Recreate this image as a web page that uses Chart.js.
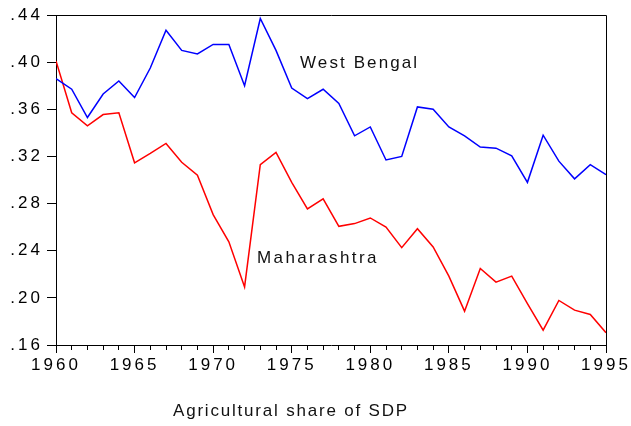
<!DOCTYPE html>
<html>
<head>
<meta charset="utf-8">
<script src="https://cdn.jsdelivr.net/npm/chart.js@4"></script>
<style>
  body { margin: 0; background: #fff; }
  canvas { display: block; }
</style>
</head>
<body>
<canvas id="chart" width="631" height="426"></canvas>
<script>
// agricultural share of state domestic product, 1960-1995
const years = [1960, 1961, 1962, 1963, 1964, 1965, 1966, 1967, 1968, 1969, 1970, 1971,
               1972, 1973, 1974, 1975, 1976, 1977, 1978, 1979, 1980, 1981, 1982, 1983,
               1984, 1985, 1986, 1987, 1988, 1989, 1990, 1991, 1992, 1993, 1994, 1995];

const westBengal = [.386, .377, .353, .373, .384, .370, .395, .427, .410, .407, .415, .415,
                    .380, .437, .410, .378, .369, .377, .365, .3375, .345, .317, .320, .362,
                    .360, .345, .3375, .328, .327, .3205, .298, .338, .316, .301, .313, .3045];

const maharashtra = [.401, .357, .346, .3555, .357, .3146, .3225, .331, .315, .304, .2706, .2475,
                     .2093, .313, .3234, .298, .2754, .284, .2607, .263, .2678, .260, .2426, .2587,
                     .2432, .2184, .1887, .2249, .2133, .2184, .1952, .1726, .1978, .1896, .1859, .1704];

const yTicks = [.16, .20, .24, .28, .32, .36, .40, .44];

const seriesLabels = ['West Bengal', 'Maharashtra'];
const axisTitle = 'Agricultural share of SDP';

Chart.defaults.font.family = '"Liberation Sans", Arial, sans-serif';
Chart.defaults.color = '#000';

const toPoints = vals => vals.map((v, i) => ({ x: years[i], y: v }));

// frame on top/right plus the free-floating labels
const extras = {
  id: 'extras',
  beforeDraw(chart) {
    chart.ctx.letterSpacing = '3px';
  },
  afterDraw(chart) {
    const { ctx, chartArea: a } = chart;
    ctx.save();
    ctx.strokeStyle = '#000';
    ctx.lineWidth = 1;
    ctx.beginPath();
    ctx.moveTo(a.left, a.top + 0.5);
    ctx.lineTo(a.right + 0.5, a.top + 0.5);
    ctx.lineTo(a.right + 0.5, a.bottom);
    ctx.stroke();

    ctx.fillStyle = '#111';
    ctx.font = '17px "Liberation Sans", Arial, sans-serif';
    ctx.textAlign = 'left';
    ctx.textBaseline = 'alphabetic';
    ctx.letterSpacing = '2.1px';
    ctx.fillText(seriesLabels[0], 300, 68);
    ctx.letterSpacing = '2.4px';
    ctx.fillText(seriesLabels[1], 257, 263);
    ctx.letterSpacing = '1.8px';
    ctx.fillText(axisTitle, 173, 416);
    ctx.restore();
  }
};

const config = {
  type: 'line',
  data: {
    datasets: [{
      label: seriesLabels[0],
      data: toPoints(westBengal),
      borderColor: '#0000ff',
      borderWidth: 1.5,
      pointRadius: 0,
      tension: 0
    }, {
      label: seriesLabels[1],
      data: toPoints(maharashtra),
      borderColor: '#ff0000',
      borderWidth: 1.5,
      pointRadius: 0,
      tension: 0
    }]
  },
  options: {
    responsive: false,
    animation: false,
    devicePixelRatio: 1,
    layout: { padding: { top: 15, right: 25, left: 0, bottom: 0 } },
    plugins: {
      legend: { display: false },
      tooltip: { enabled: false }
    },
    scales: {
      x: {
        type: 'linear',
        min: years[0],
        max: years[years.length - 1],
        afterFit: s => { s.height = 81; },
        border: { color: '#000', width: 1 },
        grid: {
          drawOnChartArea: false,
          tickLength: 8,
          tickColor: '#000',
          tickBorderDash: c => (c.tick && c.tick.value % 5 === 0) ? [] : [4, 20]
        },
        ticks: {
          stepSize: 1,
          autoSkip: false,
          maxRotation: 0,
          padding: 2,
          font: { size: 17 },
          callback: v => v % 5 === 0 ? String(v) : ''
        }
      },
      y: {
        min: yTicks[0],
        max: yTicks[yTicks.length - 1],
        afterFit: s => { s.width = 56; },
        afterBuildTicks: s => { s.ticks = yTicks.map(v => ({ value: v })); },
        border: { color: '#000', width: 1 },
        grid: {
          drawOnChartArea: false,
          tickLength: 9,
          tickColor: '#000'
        },
        ticks: {
          padding: 4,
          font: { size: 17 },
          callback: v => v.toFixed(2).replace(/^0/, '')
        }
      }
    }
  },
  plugins: [extras]
};

const chart = new Chart(document.getElementById('chart'), config);
</script>
</body>
</html>
